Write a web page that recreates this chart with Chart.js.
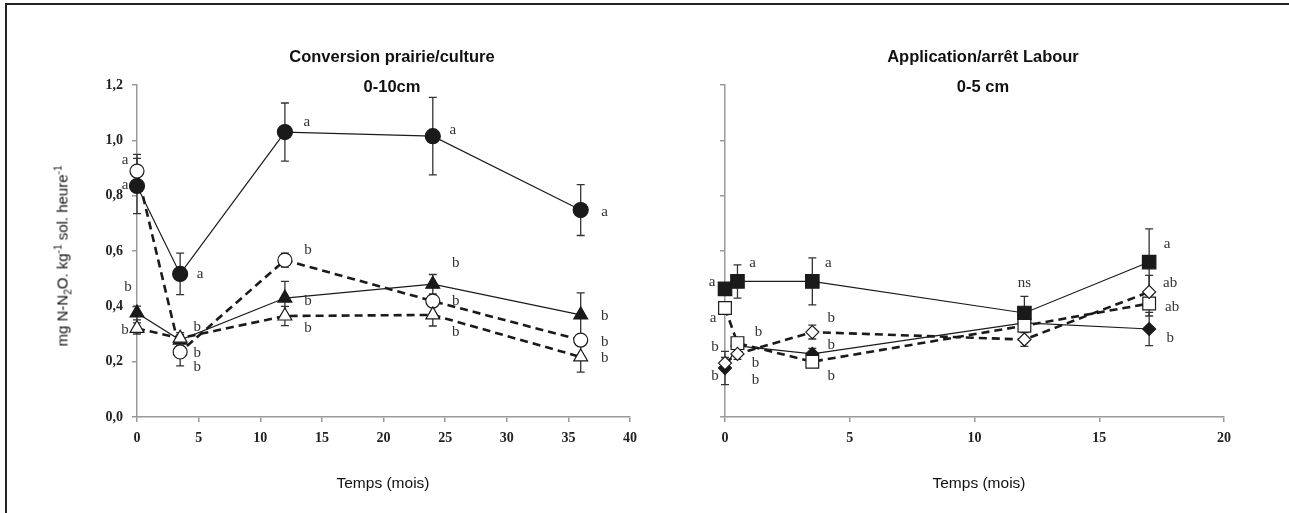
<!DOCTYPE html>
<html lang="fr">
<head>
  <meta charset="UTF-8" />
  <title>N2O - Temps (mois)</title>
  <style>
    * { margin: 0; padding: 0; box-sizing: border-box; }
    body {
      width: 1289px;
      height: 513px;
      overflow: hidden;
      background: #fff;
      position: relative;
      font-family: "Liberation Sans", Arial, sans-serif;
    }
    .frame {
      position: absolute;
      left: 5px;
      top: 3px;
      width: 1400px;
      height: 600px;
      border: 2px solid #222;
    }
    .wrap { position: absolute; top: 0; height: 513px; }
    #left { left: 0; width: 660px; }
    #right { left: 680px; width: 609px; }
    .title {
      position: absolute;
      font-weight: bold;
      font-size: 16.5px;
      color: #111;
      text-align: center;
      width: 340px;
      line-height: 30px;
    }
    .xlab {
      position: absolute;
      font-size: 15.5px;
      color: #111;
      width: 200px;
      text-align: center;
    }
    .ylab {
      position: absolute;
      font-size: 15px;
      color: #111;
      white-space: nowrap;
      transform: translate(-50%, -50%) rotate(-90deg);
    }
    .ylab sub, .ylab sup { font-size: 10px; }
  </style>
</head>
<body>
  <div class="frame"></div>

  <div class="wrap" id="left"><canvas id="chartLeft" width="660" height="513"></canvas></div>
  <div class="wrap" id="right"><canvas id="chartRight" width="609" height="513"></canvas></div>

  <div class="title" style="left:222px; top:41px;">Conversion prairie/culture<br>0-10cm</div>
  <div class="title" style="left:813px; top:41px;">Application/arrêt Labour<br>0-5 cm</div>
  <div class="xlab" style="left:283px; top:474px;">Temps (mois)</div>
  <div class="xlab" style="left:879px; top:474px;">Temps (mois)</div>
  <div class="ylab" style="left:63px; top:256px;">mg N-N<sub>2</sub>O. kg<sup>-1</sup> sol. heure<sup>-1</sup></div>

  <script src="https://cdn.jsdelivr.net/npm/chart.js"></script>
  <script>
    // ---- left panel : conversion prairie/culture ----
    const leftTimes = [0, 3.5, 12, 24, 36];
    const circleFilled = [0.835, 0.517, 1.03, 1.015, 0.748];
    const circleFilledErr = [0.10, 0.075, 0.105, 0.14, 0.092];
    const circleFilledLetters = ['a', 'a', 'a', 'a', 'a'];
    const circleOpen = [0.889, 0.235, 0.567, 0.419, 0.278];
    const circleOpenErr = [0.06, 0.05, 0.025, 0.02, 0.02];
    const circleOpenLetters = ['a', 'b', 'b', 'b', 'b'];
    const triFilled = [0.376, 0.278, 0.43, 0.48, 0.369];
    const triFilledErr = [0.025, 0.02, 0.06, 0.035, 0.08];
    const triFilledLetters = ['b', 'b', 'b', 'b', 'b'];
    const triOpen = [0.32, 0.285, 0.365, 0.369, 0.217];
    const triOpenErr = [0.02, 0.02, 0.035, 0.04, 0.055];
    const triOpenLetters = ['b', 'b', 'b', 'b', 'b'];

    // ---- right panel : application/arret labour ----
    const rightTimes = [0, 0.5, 3.5, 12, 17];
    const squareFilled = [0.463, 0.49, 0.49, 0.376, 0.56];
    const squareFilledErr = [0.02, 0.06, 0.085, 0.06, 0.12];
    const squareFilledLetters = ['a', 'a', 'a', 'ns', 'a'];
    const squareOpen = [0.394, 0.267, 0.2, 0.33, 0.41];
    const squareOpenErr = [0.02, 0.02, 0.02, 0.02, 0.045];
    const squareOpenLetters = ['a', 'b', 'b', '', 'ab'];
    const diamondFilled = [0.177, 0.257, 0.228, 0.34, 0.318];
    const diamondFilledErr = [0.06, 0.02, 0.02, 0.02, 0.06];
    const diamondFilledLetters = ['b', 'b', 'b', '', 'b'];
    const diamondOpen = [0.195, 0.228, 0.307, 0.28, 0.452];
    const diamondOpenErr = [0.02, 0.02, 0.025, 0.025, 0.06];
    const diamondOpenLetters = ['b', 'b', 'b', '', 'ab'];

    const yTicks = [0, 0.2, 0.4, 0.6, 0.8, 1.0, 1.2];

    // letter offsets (px) relative to each point
    const offCircleFilled = [[-12, -1], [20, 0], [22, -10], [20, -6], [24, 2]];
    const offCircleOpen = [[-12, -11], [17, 15], [23, -10], [23, 0], [24, 2]];
    const offTriFilled = [[-9, -26], [17, -13], [23, 3], [23, -21], [24, 1]];
    const offTriOpen = [[-12, 2], [17, 15], [23, 12], [23, 17], [24, 1]];
    const offSquareFilled = [[-13, -7], [15, -18], [16, -18], [0, -30], [18, -18]];
    const offSquareOpen = [[-12, 10], [21, -11], [19, 14], [0, 0], [23, 3]];
    const offDiamondFilled = [[-10, 8], [18, 17], [19, -9], [0, 0], [21, 9]];
    const offDiamondOpen = [[-10, -16], [18, 26], [19, -14], [0, 0], [21, -9]];

    const ink = '#1a1a1a';
    const axisGrey = '#9a9a9a';

    function series(xs, ys, errs, letters, offs, style, filled, dashed, radius) {
      return {
        data: xs.map((x, i) => ({ x: x, y: ys[i] })),
        errs: errs,
        letters: letters,
        offs: offs,
        borderColor: ink,
        borderWidth: dashed ? 2.6 : 1.2,
        borderDash: dashed ? [8, 5] : [],
        pointStyle: style,
        pointRadius: radius,
        pointBorderWidth: 1.2,
        pointBorderColor: ink,
        pointBackgroundColor: filled ? ink : '#fff',
        showLine: true,
        fill: false,
        clip: false,
        tension: 0
      };
    }

    // error bars drawn below lines and markers
    const errorBars = {
      id: 'errorBars',
      beforeDatasetsDraw(chart) {
        const ctx = chart.ctx, xs = chart.scales.x, ys = chart.scales.y;
        ctx.save();
        ctx.strokeStyle = '#333';
        ctx.lineWidth = 1.3;
        chart.data.datasets.forEach(ds => {
          ds.data.forEach((p, i) => {
            const e = ds.errs[i];
            const px = xs.getPixelForValue(p.x);
            const top = ys.getPixelForValue(p.y + e);
            const bot = ys.getPixelForValue(p.y - e);
            ctx.beginPath();
            ctx.moveTo(px, top); ctx.lineTo(px, bot);
            ctx.moveTo(px - 4, top); ctx.lineTo(px + 4, top);
            ctx.moveTo(px - 4, bot); ctx.lineTo(px + 4, bot);
            ctx.stroke();
          });
        });
        ctx.restore();
      }
    };

    // significance letters next to the points
    const letterMarks = {
      id: 'letterMarks',
      afterDatasetsDraw(chart) {
        const ctx = chart.ctx, xs = chart.scales.x, ys = chart.scales.y;
        ctx.save();
        ctx.fillStyle = '#333';
        ctx.font = '15px "Liberation Serif", "Times New Roman", serif';
        ctx.textAlign = 'center';
        ctx.textBaseline = 'middle';
        chart.data.datasets.forEach(ds => {
          ds.data.forEach((p, i) => {
            const t = ds.letters[i];
            if (!t) return;
            ctx.fillText(t, xs.getPixelForValue(p.x) + ds.offs[i][0], ys.getPixelForValue(p.y) + ds.offs[i][1]);
          });
        });
        ctx.restore();
      }
    };

    const tickFont = { family: '"Liberation Serif", "Times New Roman", serif', size: 14, weight: 'bold' };

    function makeOptions(xMax, yWidth, showYLabels, padRight) {
      return {
        responsive: false,
        animation: false,
        events: [],
        layout: { padding: { left: 0, top: 85, right: padRight, bottom: 66 } },
        plugins: { legend: { display: false }, tooltip: { enabled: false } },
        scales: {
          x: {
            type: 'linear',
            min: 0,
            max: xMax,
            ticks: { stepSize: 5, font: tickFont, color: '#222', padding: 8 },
            grid: { drawOnChartArea: false, tickLength: 5, color: axisGrey, lineWidth: 1.5 },
            border: { color: axisGrey, width: 1.5 },
            afterFit(s) { s.height = 30; }
          },
          y: {
            min: 0,
            max: 1.2,
            afterBuildTicks(s) { s.ticks = yTicks.map(v => ({ value: v })); },
            ticks: {
              display: showYLabels,
              font: tickFont,
              color: '#222',
              padding: 9,
              callback: v => v.toFixed(1).replace('.', ',')
            },
            grid: { drawOnChartArea: false, tickLength: 5, color: axisGrey, lineWidth: 1.5 },
            border: { color: axisGrey, width: 1.5 },
            afterFit(s) { s.width = yWidth; }
          }
        }
      };
    }

    new Chart(document.getElementById('chartLeft'), {
      type: 'scatter',
      data: {
        datasets: [
          series(leftTimes, triOpen, triOpenErr, triOpenLetters, offTriOpen, 'triangle', false, true, 8),
          series(leftTimes, circleOpen, circleOpenErr, circleOpenLetters, offCircleOpen, 'circle', false, true, 7),
          series(leftTimes, triFilled, triFilledErr, triFilledLetters, offTriFilled, 'triangle', true, false, 8),
          series(leftTimes, circleFilled, circleFilledErr, circleFilledLetters, offCircleFilled, 'circle', true, false, 7.5)
        ]
      },
      options: makeOptions(40, 137, true, 30),
      plugins: [errorBars, letterMarks]
    });

    new Chart(document.getElementById('chartRight'), {
      type: 'scatter',
      data: {
        datasets: [
          series(rightTimes, diamondOpen, diamondOpenErr, diamondOpenLetters, offDiamondOpen, 'rectRot', false, true, 6.5),
          series(rightTimes, squareOpen, squareOpenErr, squareOpenLetters, offSquareOpen, 'rect', false, true, 9),
          series(rightTimes, diamondFilled, diamondFilledErr, diamondFilledLetters, offDiamondFilled, 'rectRot', true, false, 6.5),
          series(rightTimes, squareFilled, squareFilledErr, squareFilledLetters, offSquareFilled, 'rect', true, false, 9.5)
        ]
      },
      options: makeOptions(20, 45, false, 65),
      plugins: [errorBars, letterMarks]
    });
  </script>
</body>
</html>
